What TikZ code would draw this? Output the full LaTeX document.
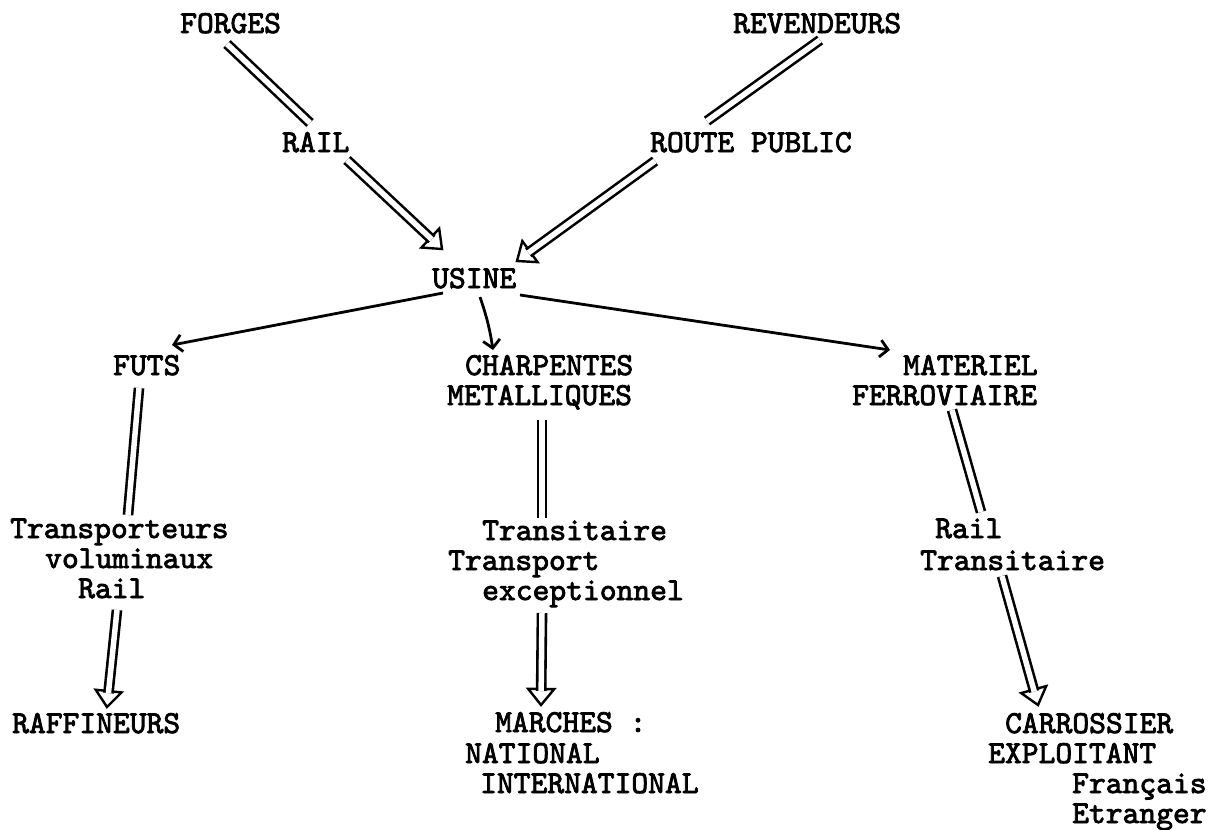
\documentclass[tikz,border=0pt]{standalone}
\usepackage{fontspec}
\newfontfamily\tw{lmmono10-regular.otf}[FakeBold=2.5]
\usetikzlibrary{arrows.meta,calc}
\newcommand\dblhead[2]{%
  \coordinate (hb) at ($(#2)!16pt!(#1)$);
  \draw[headstyle] ($(hb)!13pt!90:(#2)$) -- (#2) -- ($(hb)!13pt!-90:(#2)$) -- cycle;
  \draw[dbl] (#1) -- ($(#2)!14pt!(#1)$);
}
\begin{document}
\begin{tikzpicture}[x=1pt,y=-1pt,
  lbl/.style={anchor=base west, inner sep=0pt, font=\tw\fontsize{32}{32}\selectfont},
  dbl/.style={double distance=5.5pt, line width=2.6pt, line cap=butt},
  sgl/.style={line width=2.8pt, -{Straight Barb[length=8pt,width=17pt]}},
  headstyle/.style={line width=2.4pt, fill=white, line join=miter}]
\useasboundingbox (0,0) rectangle (1216,830);

% texts
\node[lbl] (forges) at (180,33) {FORGES};
\node[lbl] (revend) at (733,33) {REVENDEURS};
\node[lbl] (rail) at (282,152) {RAIL};
\node[lbl] (route) at (650,152) {ROUTE PUBLIC};
\node[lbl] (usine) at (432,288) {USINE};
\node[lbl] (futs) at (113,375) {FUTS};
\node[lbl] (charp) at (465,375) {CHARPENTES};
\node[lbl] (metal) at (447,405) {METALLIQUES};
\node[lbl] (mater) at (903,375) {MATERIEL};
\node[lbl] (ferro) at (852,405) {FERROVIAIRE};
\node[lbl] (transp) at (10,538) {Transporteurs};
\node[lbl] (volum) at (45,568) {voluminaux};
\node[lbl] (railb) at (78,598) {Rail};
\node[lbl] (raff) at (12,733) {RAFFINEURS};
\node[lbl] (transit) at (482,540) {Transitaire};
\node[lbl] (transport) at (448,570) {Transport};
\node[lbl] (except) at (482,600) {exceptionnel};
\node[lbl] (marches) at (495,732) {MARCHES :};
\node[lbl] (national) at (465,763) {NATIONAL};
\node[lbl] (internat) at (480,793) {INTERNATIONAL};
\node[lbl] (railc) at (935,538) {Rail};
\node[lbl] (transitb) at (920,570) {Transitaire};
\node[lbl] (carros) at (1005,733) {CARROSSIER};
\node[lbl] (exploit) at (988,763) {EXPLOITANT};
\node[lbl] (francais) at (1072,793) {Français};
\node[lbl] (etranger) at (1072,823) {Etranger};

% connector end points
\coordinate (fo1) at (227,44);  \coordinate (ra1) at (310,123);
\coordinate (ra2) at (347,160); \coordinate (us1) at (442,249);
\coordinate (re1) at (820,40);  \coordinate (ro1) at (707,121);
\coordinate (ro2) at (655,161); \coordinate (us2) at (517,261);
\coordinate (us3) at (443,293); \coordinate (fu1) at (172,345);
\coordinate (us4) at (480,297); \coordinate (ch1) at (493,350);
\coordinate (us5) at (520,295); \coordinate (ma1) at (890,350);
\coordinate (fu2) at (139,388); \coordinate (tr1) at (128,515);
\coordinate (rb1) at (117,610); \coordinate (rf1) at (107,707);
\coordinate (me1) at (542,420); \coordinate (ts1) at (542,518);
\coordinate (ex1) at (542,613); \coordinate (mc1) at (541,705);
\coordinate (fe1) at (952,410); \coordinate (rc1) at (981,512);
\coordinate (tb1) at (1002,576);\coordinate (ca1) at (1038,705);

% double lines
\draw[dbl] (fo1) -- (ra1);
\dblhead{ra2}{us1}
\draw[dbl] (re1) -- (ro1);
\dblhead{ro2}{us2}
\draw[dbl] (fu2) -- (tr1);
\dblhead{rb1}{rf1}
\draw[dbl] (me1) -- (ts1);
\dblhead{ex1}{mc1}
\draw[dbl] (fe1) -- (rc1);
\dblhead{tb1}{ca1}

% single arrows
\draw[sgl] (us3) -- (fu1);
\draw[sgl] (us4) to[bend left=5] (ch1);
\draw[sgl] (us5) -- (ma1);
\end{tikzpicture}
\end{document}
